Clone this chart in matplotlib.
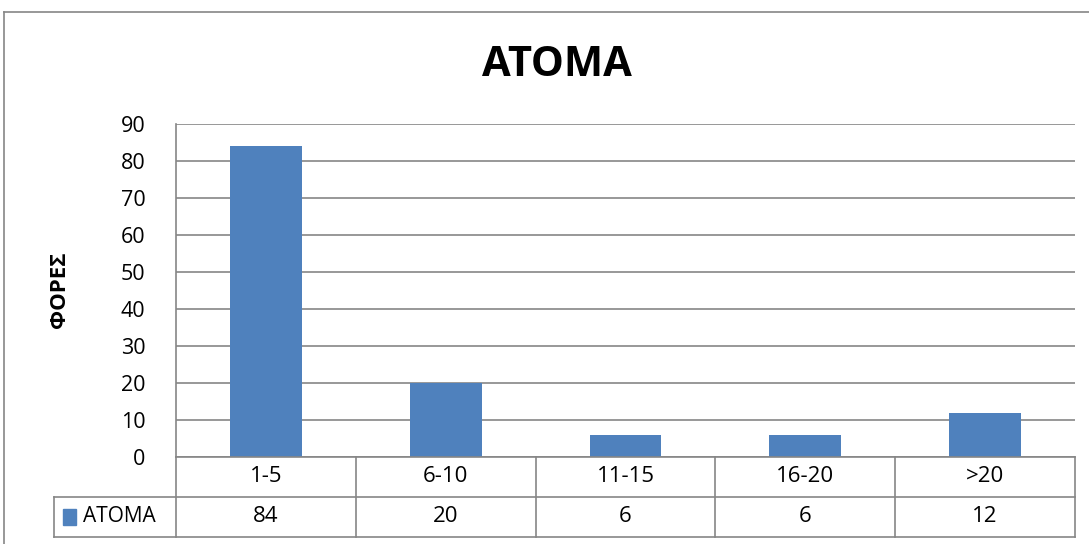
import matplotlib.pyplot as plt
from matplotlib.lines import Line2D
from matplotlib.patches import Rectangle

plt.rcParams['font.family'] = ['Open Sans', 'DejaVu Sans']

# data
categories = ['1-5', '6-10', '11-15', '16-20', '>20']
values = [84, 20, 6, 6, 12]
series_name = 'ΑΤΟΜΑ'
title = 'ΑΤΟΜΑ'
ylabel = 'ΦΟΡΕΣ'
yticks = list(range(0, 91, 10))

W, H = 1089, 544
bar_color = '#4F81BD'
line_color = '#868686'

fig = plt.figure(figsize=(W / 100, H / 100), dpi=100)

def fx(px):
    return px / W

def fy(py):
    return 1 - py / H

# outer chart border (cut off at right/bottom)
fig.add_artist(Line2D([fx(4), 1], [fy(12), fy(12)], color=line_color, lw=1.2))
fig.add_artist(Line2D([fx(4), fx(4)], [fy(12), 0], color=line_color, lw=1.2))

# plot area
left, right, top, bottom = 176, 1075, 124, 457
ax = fig.add_axes([fx(left), fy(bottom), fx(right - left), (bottom - top) / H])
x = list(range(len(categories)))
ax.bar(x, values, width=0.4, color=bar_color, zorder=3)
ax.set_xlim(-0.5, len(categories) - 0.5)
ax.set_ylim(0, 90)
ax.set_yticks(yticks)
ax.tick_params(axis='y', length=0, labelsize=15.5, pad=22)
ax.set_xticks([])
ax.grid(axis='y', color=line_color, lw=1.2, zorder=0)
for s in ['top', 'right', 'bottom']:
    ax.spines[s].set_visible(False)
ax.spines['left'].set_color(line_color)
ax.spines['left'].set_linewidth(1.2)

fig.text(fx(60), fy(290), ylabel, rotation=90, ha='center', va='center',
         fontsize=16, fontweight='bold')
fig.text(fx(557), fy(65), title, ha='center', va='center',
         fontsize=30, fontweight='bold')

# data table below plot
unit = (right - left) / len(categories)
leg_left = 54
tab_top, tab_bot = 457, 537
tax = fig.add_axes([fx(leg_left), fy(tab_bot), fx(right - leg_left), (tab_bot - tab_top) / H])
x0 = -0.5 - (left - leg_left) / unit
tax.set_xlim(x0, len(categories) - 0.5)
tax.set_ylim(0, 2)
tax.axis('off')
kw = dict(color=line_color, lw=1.2, clip_on=False)
tax.plot([-0.5, len(categories) - 0.5], [2, 2], **kw)
tax.plot([x0, len(categories) - 0.5], [1, 1], **kw)
tax.plot([x0, len(categories) - 0.5], [0, 0], **kw)
tax.plot([x0, x0], [0, 1], **kw)
for i in range(len(categories) + 1):
    tax.plot([i - 0.5, i - 0.5], [0, 2], **kw)
for i, (c, v) in enumerate(zip(categories, values)):
    tax.text(i, 1.5, c, ha='center', va='center', fontsize=16)
    tax.text(i, 0.5, str(v), ha='center', va='center', fontsize=16)
tax.add_patch(Rectangle((x0 + 0.05, 0.3), 0.075, 0.4, color=bar_color, clip_on=False))
tax.text(x0 + 0.16, 0.5, series_name, ha='left', va='center', fontsize=15)

fig.savefig('out.png', dpi=100)
